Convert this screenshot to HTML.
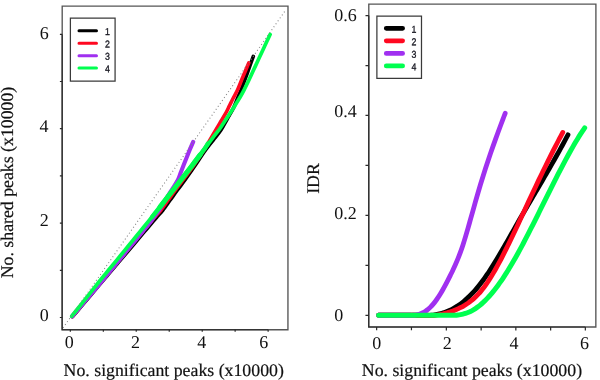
<!DOCTYPE html>
<html>
<head>
<meta charset="utf-8">
<style>
html,body{margin:0;padding:0;background:#fff;}
body{width:600px;height:380px;overflow:hidden;}
svg{display:block;will-change:transform;}
text{font-family:"Liberation Serif",serif;fill:#111;text-rendering:geometricPrecision;}
.leg{font-family:"Liberation Sans",sans-serif;font-size:10px;fill:#15151f;stroke:#15151f;stroke-width:0.3;}
.tk{font-size:18px;}
.lb{font-size:17.8px;stroke:#111;stroke-width:0.2;}
.ax{stroke:#2a2a2a;stroke-width:1.2;fill:none;}
.fr{stroke:#555;stroke-width:1.35;fill:none;}
.c{fill:none;stroke-linecap:round;stroke-linejoin:round;}
</style>
</head>
<body>
<svg width="600" height="380" viewBox="0 0 600 380">
<rect width="600" height="380" fill="#fff"/>

<!-- ================= LEFT PANEL ================= -->
<g id="left" transform="rotate(0.01)">
  <path class="c" stroke="#000000" stroke-width="3.6" d="M72.60,316.60 C74.09,314.84 78.56,309.56 81.53,306.04 C84.51,302.53 87.49,299.01 90.47,295.49 C93.44,291.97 96.42,288.45 99.40,284.93 C102.38,281.41 105.36,277.90 108.33,274.38 C111.31,270.86 114.29,267.34 117.27,263.82 C120.24,260.30 123.22,256.79 126.20,253.27 C129.18,249.75 132.16,246.23 135.13,242.71 C138.11,239.19 141.09,235.67 144.07,232.16 C147.04,228.64 150.68,224.33 153.00,221.60 C155.32,218.87 156.33,217.73 158.00,215.80 C159.67,213.87 160.96,212.63 163.00,210.00 C165.04,207.37 167.83,203.33 170.25,200.00 C172.67,196.67 175.04,193.33 177.50,190.00 C179.96,186.67 182.58,183.33 185.00,180.00 C187.42,176.67 189.70,173.33 192.00,170.00 C194.30,166.67 196.53,163.33 198.80,160.00 C201.07,156.67 203.18,153.33 205.60,150.00 C208.02,146.67 210.73,143.33 213.30,140.00 C215.87,136.67 218.68,133.50 221.00,130.00 C223.32,126.50 225.17,122.67 227.25,119.00 C229.33,115.33 231.83,111.33 233.50,108.00 C235.17,104.67 236.00,102.00 237.25,99.00 C238.50,96.00 239.88,92.83 241.00,90.00 C242.12,87.17 243.00,84.67 244.00,82.00 C245.00,79.33 245.97,76.81 247.00,74.00 C248.03,71.19 249.10,68.10 250.15,65.15 C251.20,62.20 252.78,57.77 253.30,56.30"/>
  <path class="c" stroke="#ff0820" stroke-width="3.6" d="M72.40,316.50 C73.86,314.74 78.22,309.47 81.13,305.96 C84.04,302.44 86.96,298.93 89.87,295.41 C92.78,291.90 95.69,288.38 98.60,284.87 C101.51,281.35 104.42,277.84 107.33,274.32 C110.24,270.81 113.16,267.29 116.07,263.78 C118.98,260.26 121.89,256.75 124.80,253.23 C127.71,249.72 130.62,246.20 133.53,242.69 C136.44,239.17 139.36,235.66 142.27,232.14 C145.18,228.63 148.71,224.32 151.00,221.60 C153.29,218.88 154.33,217.73 156.00,215.80 C157.67,213.87 158.96,212.63 161.00,210.00 C163.04,207.37 165.83,203.33 168.25,200.00 C170.67,196.67 173.04,193.33 175.50,190.00 C177.96,186.67 180.50,183.33 183.00,180.00 C185.50,176.67 188.12,173.33 190.50,170.00 C192.88,166.67 195.00,163.33 197.25,160.00 C199.50,156.67 202.00,153.17 204.00,150.00 C206.00,146.83 207.50,144.00 209.25,141.00 C211.00,138.00 212.71,135.03 214.50,132.00 C216.29,128.97 218.17,125.90 220.00,122.85 C221.83,119.80 223.93,116.53 225.50,113.70 C227.07,110.87 228.10,108.47 229.40,105.85 C230.70,103.23 231.95,100.64 233.30,98.00 C234.65,95.36 236.12,93.00 237.50,90.00 C238.88,87.00 240.32,83.10 241.60,80.00 C242.88,76.90 244.00,74.27 245.20,71.40 C246.40,68.53 248.20,64.23 248.80,62.80"/>
  <path class="c" stroke="#a030f0" stroke-width="4.1" d="M72.20,316.40 C73.48,314.88 77.33,310.33 79.90,307.30 C82.47,304.27 85.03,301.23 87.60,298.20 C90.17,295.17 92.73,292.13 95.30,289.10 C97.87,286.07 100.39,283.14 103.00,280.00 C105.61,276.86 108.31,273.51 110.97,270.27 C113.62,267.02 116.28,263.78 118.93,260.53 C121.59,257.29 124.24,254.04 126.90,250.80 C129.56,247.56 132.21,244.31 134.87,241.07 C137.52,237.82 140.18,234.58 142.83,231.33 C145.49,228.09 148.77,224.19 150.80,221.60 C152.83,219.01 153.60,217.73 155.00,215.80 C156.40,213.87 157.48,212.63 159.20,210.00 C160.92,207.37 163.17,203.42 165.30,200.00 C167.43,196.58 169.90,192.83 172.00,189.50 C174.10,186.17 176.43,182.83 177.90,180.00 C179.37,177.17 179.83,175.00 180.80,172.50 C181.77,170.00 182.72,167.50 183.70,165.00 C184.68,162.50 185.70,160.00 186.70,157.50 C187.70,155.00 188.62,152.62 189.70,150.00 C190.78,147.38 192.62,143.17 193.20,141.80"/>
  <path class="c" stroke="#00ff50" stroke-width="3.7" d="M71.80,316.20 C73.00,314.69 76.58,310.17 78.97,307.15 C81.37,304.13 83.76,301.12 86.15,298.10 C88.54,295.08 90.93,292.07 93.33,289.05 C95.72,286.03 97.98,283.13 100.50,280.00 C103.02,276.87 105.80,273.51 108.45,270.27 C111.10,267.02 113.75,263.78 116.40,260.53 C119.05,257.29 121.70,254.04 124.35,250.80 C127.00,247.56 129.65,244.31 132.30,241.07 C134.95,237.82 137.60,234.58 140.25,231.33 C142.90,228.09 146.07,224.23 148.20,221.60 C150.33,218.97 151.43,217.57 153.05,215.55 C154.67,213.53 155.79,212.18 157.90,209.50 C160.01,206.82 163.10,202.83 165.70,199.50 C168.30,196.17 171.23,192.42 173.50,189.50 C175.77,186.58 177.39,184.50 179.33,182.00 C181.28,179.50 183.22,177.00 185.17,174.50 C187.11,172.00 188.88,169.79 191.00,167.00 C193.12,164.21 195.60,160.83 197.90,157.75 C200.20,154.67 202.35,151.79 204.80,148.50 C207.25,145.21 210.07,141.33 212.60,138.00 C215.13,134.67 217.75,131.62 220.00,128.50 C222.25,125.38 224.07,122.33 226.10,119.25 C228.13,116.17 230.52,112.62 232.20,110.00 C233.88,107.38 234.87,105.67 236.20,103.50 C237.53,101.33 238.90,99.25 240.20,97.00 C241.50,94.75 242.70,92.50 244.00,90.00 C245.30,87.50 246.43,85.29 248.00,82.00 C249.57,78.71 251.63,74.17 253.45,70.25 C255.27,66.33 257.06,62.47 258.90,58.50 C260.74,54.53 262.63,50.47 264.50,46.45 C266.37,42.43 269.17,36.41 270.10,34.40"/>
  <path class="c" stroke="#00ff50" stroke-width="4.4" d="M152.00,217.00 C152.98,215.75 155.62,212.42 157.90,209.50 C160.18,206.58 163.10,202.83 165.70,199.50 C168.30,196.17 171.23,192.42 173.50,189.50 C175.77,186.58 177.39,184.50 179.33,182.00 C181.28,179.50 183.22,177.00 185.17,174.50 C187.11,172.00 188.88,169.79 191.00,167.00 C193.12,164.21 195.60,160.83 197.90,157.75 C200.20,154.67 203.12,150.88 204.80,148.50 C206.48,146.12 207.47,144.33 208.00,143.50"/>
  <path class="c" stroke="#00ff50" stroke-width="5" d="M160.00,207.00 C161.12,205.54 164.50,201.17 166.75,198.25 C169.00,195.33 171.40,192.21 173.50,189.50 C175.60,186.79 177.39,184.50 179.33,182.00 C181.28,179.50 183.22,177.00 185.17,174.50 C187.11,172.00 189.28,169.25 191.00,167.00 C192.72,164.75 194.00,163.00 195.50,161.00 C197.00,159.00 199.25,156.00 200.00,155.00"/>
  <line x1="63.1" y1="327.9" x2="285.6" y2="10.1" stroke="#858585" stroke-width="1.1" stroke-dasharray="1 2.6" fill="none"/>
  <rect class="fr" x="62.2" y="6.1" width="225.8" height="323.6"/>
  <path class="ax" d="M62.2,34.4V329.7H268.2"/>
  <path class="ax" d="M59.9,317.5H62.2M59.9,270.3H62.2M59.9,223.1H62.2M59.9,175.9H62.2M59.9,128.7H62.2M59.9,81.5H62.2M59.9,34.4H62.2"/>
  <path class="ax" d="M70.4,329.7V331.8M103.4,329.7V331.8M136.3,329.7V331.8M169.3,329.7V331.8M202.3,329.7V331.8M235.2,329.7V331.8M268.2,329.7V331.8"/>
  <text class="tk" x="44.3" y="39" text-anchor="middle">6</text>
  <text class="tk" x="44.1" y="132.3" text-anchor="middle">4</text>
  <text class="tk" x="44.2" y="226" text-anchor="middle">2</text>
  <text class="tk" x="44.3" y="320.9" text-anchor="middle">0</text>
  <text class="tk" x="69.3" y="347.9" text-anchor="middle">0</text>
  <text class="tk" x="135.5" y="347.8" text-anchor="middle">2</text>
  <text class="tk" x="201.9" y="347.8" text-anchor="middle">4</text>
  <text class="tk" x="263.9" y="347.8" text-anchor="middle">6</text>
  <text class="lb" x="173.8" y="376.2" text-anchor="middle">No. significant peaks (x10000)</text>
  <text class="lb" transform="translate(12.7,182.5) rotate(-90)" text-anchor="middle">No. shared peaks (x10000)</text>
  <rect x="70.4" y="18.2" width="44.7" height="62.9" fill="#fff" stroke="#3a3a3a" stroke-width="1.25"/>
  <g class="c" stroke-width="3">
    <line x1="79" y1="30.8" x2="96.5" y2="30.8" stroke="#000000"/>
    <line x1="79" y1="43.3" x2="96.5" y2="43.3" stroke="#ff0820"/>
    <line x1="79" y1="55.8" x2="96.5" y2="55.8" stroke="#a030f0"/>
    <line x1="79" y1="68.1" x2="96.5" y2="68.1" stroke="#00ff50"/>
  </g>
  <text class="leg" transform="translate(105.1,35.0) rotate(0.03) scale(0.88,1)">1</text>
  <text class="leg" transform="translate(105.1,47.4) rotate(0.03) scale(0.88,1)">2</text>
  <text class="leg" transform="translate(105.1,59.8) rotate(0.03) scale(0.88,1)">3</text>
  <text class="leg" transform="translate(105.1,72.2) rotate(0.03) scale(0.88,1)">4</text>
</g>

<!-- ================= RIGHT PANEL ================= -->
<g id="right" transform="rotate(0.01)">
  <path class="c" stroke="#000000" stroke-width="4.8" d="M378.70,315.20 L424.50,315.20 C424.92,315.20 426.17,315.20 427.00,315.20 C427.83,315.20 428.67,315.23 429.50,315.20 C430.33,315.16 431.17,315.07 432.00,314.99 C432.83,314.90 433.67,314.80 434.50,314.69 C435.33,314.57 436.17,314.44 437.00,314.28 C437.83,314.13 438.67,313.96 439.50,313.77 C440.33,313.57 441.17,313.36 442.00,313.13 C442.83,312.89 443.67,312.64 444.50,312.36 C445.33,312.08 446.17,311.78 447.00,311.45 C447.83,311.13 448.67,310.78 449.50,310.40 C450.33,310.02 451.17,309.62 452.00,309.19 C452.83,308.76 453.67,308.30 454.50,307.82 C455.33,307.34 456.17,306.83 457.00,306.30 C457.83,305.76 458.67,305.20 459.50,304.61 C460.33,304.02 461.17,303.40 462.00,302.76 C462.83,302.11 463.67,301.44 464.50,300.74 C465.33,300.04 466.17,299.31 467.00,298.55 C467.83,297.79 468.67,297.00 469.50,296.18 C470.33,295.37 471.17,294.52 472.00,293.64 C472.83,292.77 473.67,291.86 474.50,290.92 C475.33,289.99 476.17,289.02 477.00,288.02 C477.83,287.03 478.67,286.00 479.50,284.94 C480.33,283.88 481.17,282.79 482.00,281.67 C482.83,280.55 483.67,279.40 484.50,278.22 C485.33,277.05 486.17,275.85 487.00,274.62 C487.83,273.39 488.67,272.14 489.50,270.87 C490.33,269.60 491.17,268.30 492.00,266.99 C492.83,265.67 493.67,264.34 494.50,262.99 C495.33,261.64 496.17,260.27 497.00,258.88 C497.83,257.50 498.67,256.10 499.50,254.69 C500.33,253.28 501.17,251.86 502.00,250.43 C502.83,248.99 503.67,247.55 504.50,246.10 C505.33,244.65 506.17,243.19 507.00,241.73 C507.83,240.26 508.67,238.79 509.50,237.32 C510.33,235.85 511.17,234.37 512.00,232.90 C512.83,231.42 513.67,229.94 514.50,228.47 C515.33,227.00 516.17,225.52 517.00,224.06 C517.83,222.59 518.67,221.12 519.50,219.67 C520.33,218.21 521.17,216.76 522.00,215.31 C522.83,213.86 523.67,212.42 524.50,210.99 C525.33,209.55 526.17,208.12 527.00,206.69 C527.83,205.26 528.67,203.83 529.50,202.41 C530.33,200.98 531.17,199.56 532.00,198.14 C532.83,196.72 533.67,195.30 534.50,193.88 C535.33,192.46 536.17,191.04 537.00,189.62 C537.83,188.21 538.67,186.79 539.50,185.36 C540.33,183.94 541.17,182.52 542.00,181.09 C542.83,179.67 543.67,178.24 544.50,176.81 C545.33,175.38 546.17,173.94 547.00,172.50 C547.83,171.06 548.67,169.62 549.50,168.17 C550.33,166.72 551.17,165.27 552.00,163.80 C552.83,162.34 553.67,160.88 554.50,159.40 C555.33,157.92 556.17,156.44 557.00,154.95 C557.83,153.46 558.67,151.96 559.50,150.45 C560.33,148.94 561.17,147.42 562.00,145.90 C562.83,144.37 563.67,142.83 564.50,141.28 C565.33,139.73 566.42,137.69 567.00,136.59 C567.58,135.50 567.83,135.02 568.00,134.70"/>
  <path class="c" stroke="#ff0820" stroke-width="4.8" d="M378.70,315.20 L428.50,315.20 C428.92,315.20 430.17,315.20 431.00,315.20 C431.83,315.20 432.67,315.23 433.50,315.20 C434.33,315.17 435.17,315.10 436.00,315.01 C436.83,314.92 437.67,314.80 438.50,314.67 C439.33,314.54 440.17,314.38 441.00,314.21 C441.83,314.04 442.67,313.86 443.50,313.65 C444.33,313.45 445.17,313.23 446.00,313.00 C446.83,312.77 447.67,312.52 448.50,312.26 C449.33,312.00 450.17,311.73 451.00,311.45 C451.83,311.17 452.67,310.88 453.50,310.57 C454.33,310.26 455.17,309.93 456.00,309.59 C456.83,309.25 457.67,308.89 458.50,308.51 C459.33,308.13 460.17,307.73 461.00,307.30 C461.83,306.88 462.67,306.43 463.50,305.96 C464.33,305.48 465.17,304.98 466.00,304.45 C466.83,303.92 467.67,303.36 468.50,302.76 C469.33,302.17 470.17,301.55 471.00,300.88 C471.83,300.22 472.67,299.53 473.50,298.79 C474.33,298.06 475.17,297.28 476.00,296.47 C476.83,295.65 477.67,294.80 478.50,293.90 C479.33,293.00 480.17,292.06 481.00,291.06 C481.83,290.07 482.67,289.03 483.50,287.95 C484.33,286.86 485.17,285.72 486.00,284.54 C486.83,283.36 487.67,282.13 488.50,280.86 C489.33,279.60 490.17,278.28 491.00,276.94 C491.83,275.59 492.67,274.20 493.50,272.78 C494.33,271.36 495.17,269.91 496.00,268.42 C496.83,266.94 497.67,265.42 498.50,263.88 C499.33,262.34 500.17,260.76 501.00,259.17 C501.83,257.58 502.67,255.96 503.50,254.32 C504.33,252.69 505.17,251.03 506.00,249.36 C506.83,247.69 507.67,245.99 508.50,244.29 C509.33,242.59 510.17,240.87 511.00,239.14 C511.83,237.41 512.67,235.67 513.50,233.91 C514.33,232.16 515.17,230.40 516.00,228.63 C516.83,226.86 517.67,225.08 518.50,223.30 C519.33,221.52 520.17,219.73 521.00,217.94 C521.83,216.14 522.67,214.35 523.50,212.55 C524.33,210.76 525.17,208.96 526.00,207.17 C526.83,205.37 527.67,203.57 528.50,201.78 C529.33,199.99 530.17,198.21 531.00,196.43 C531.83,194.64 532.67,192.87 533.50,191.10 C534.33,189.33 535.17,187.57 536.00,185.81 C536.83,184.05 537.67,182.30 538.50,180.56 C539.33,178.82 540.17,177.08 541.00,175.35 C541.83,173.63 542.67,171.91 543.50,170.20 C544.33,168.49 545.17,166.78 546.00,165.09 C546.83,163.39 547.67,161.71 548.50,160.03 C549.33,158.36 550.17,156.69 551.00,155.04 C551.83,153.38 552.67,151.73 553.50,150.10 C554.33,148.46 555.17,146.83 556.00,145.22 C556.83,143.61 557.67,142.00 558.50,140.41 C559.33,138.82 560.28,137.02 561.00,135.67 C561.72,134.32 562.50,132.86 562.80,132.30"/>
  <path class="c" stroke="#a030f0" stroke-width="4.8" d="M378.70,315.20 L408.00,315.20 C408.42,315.20 409.67,315.20 410.50,315.20 C411.33,315.20 412.17,315.24 413.00,315.20 C413.83,315.16 414.67,315.10 415.50,314.98 C416.33,314.85 417.17,314.65 418.00,314.43 C418.83,314.21 419.67,313.94 420.50,313.63 C421.33,313.31 422.17,312.95 423.00,312.53 C423.83,312.11 424.67,311.63 425.50,311.09 C426.33,310.55 427.17,309.95 428.00,309.28 C428.83,308.60 429.67,307.86 430.50,307.04 C431.33,306.22 432.17,305.32 433.00,304.34 C433.83,303.37 434.67,302.31 435.50,301.18 C436.33,300.06 437.17,298.86 438.00,297.60 C438.83,296.35 439.67,295.02 440.50,293.65 C441.33,292.28 442.17,290.84 443.00,289.37 C443.83,287.89 444.67,286.36 445.50,284.80 C446.33,283.24 447.17,281.64 448.00,280.00 C448.83,278.37 449.67,276.71 450.50,275.02 C451.33,273.33 452.17,271.63 453.00,269.87 C453.83,268.10 454.67,266.32 455.50,264.44 C456.33,262.56 457.17,260.63 458.00,258.57 C458.83,256.52 459.67,254.39 460.50,252.10 C461.33,249.81 462.17,247.40 463.00,244.85 C463.83,242.30 464.67,239.59 465.50,236.82 C466.33,234.05 467.17,231.15 468.00,228.24 C468.83,225.33 469.67,222.34 470.50,219.38 C471.33,216.41 472.17,213.41 473.00,210.45 C473.83,207.48 474.67,204.50 475.50,201.58 C476.33,198.65 477.17,195.73 478.00,192.88 C478.83,190.03 479.67,187.22 480.50,184.46 C481.33,181.71 482.17,179.01 483.00,176.34 C483.83,173.68 484.67,171.07 485.50,168.49 C486.33,165.92 487.17,163.39 488.00,160.89 C488.83,158.39 489.67,155.93 490.50,153.50 C491.33,151.08 492.17,148.68 493.00,146.32 C493.83,143.95 494.67,141.61 495.50,139.30 C496.33,136.98 497.17,134.69 498.00,132.42 C498.83,130.15 499.67,127.90 500.50,125.67 C501.33,123.43 502.22,121.08 503.00,119.00 C503.78,116.93 504.83,114.17 505.20,113.20"/>
  <path class="c" stroke="#00ff50" stroke-width="5" d="M378.70,315.20 L448.00,315.20 C448.42,315.20 449.67,315.20 450.50,315.20 C451.33,315.20 452.17,315.20 453.00,315.20 C453.83,315.20 454.67,315.23 455.50,315.18 C456.33,315.14 457.17,315.04 458.00,314.93 C458.83,314.83 459.67,314.70 460.50,314.55 C461.33,314.40 462.17,314.23 463.00,314.03 C463.83,313.82 464.67,313.60 465.50,313.33 C466.33,313.07 467.17,312.78 468.00,312.45 C468.83,312.12 469.67,311.76 470.50,311.36 C471.33,310.95 472.17,310.51 473.00,310.04 C473.83,309.56 474.67,309.04 475.50,308.49 C476.33,307.94 477.17,307.35 478.00,306.72 C478.83,306.10 479.67,305.44 480.50,304.74 C481.33,304.05 482.17,303.32 483.00,302.56 C483.83,301.79 484.67,300.99 485.50,300.16 C486.33,299.33 487.17,298.47 488.00,297.57 C488.83,296.68 489.67,295.75 490.50,294.79 C491.33,293.83 492.17,292.84 493.00,291.82 C493.83,290.80 494.67,289.75 495.50,288.67 C496.33,287.59 497.17,286.48 498.00,285.34 C498.83,284.20 499.67,283.04 500.50,281.84 C501.33,280.65 502.17,279.43 503.00,278.18 C503.83,276.93 504.67,275.66 505.50,274.36 C506.33,273.06 507.17,271.73 508.00,270.38 C508.83,269.03 509.67,267.66 510.50,266.26 C511.33,264.87 512.17,263.45 513.00,262.01 C513.83,260.57 514.67,259.11 515.50,257.64 C516.33,256.16 517.17,254.66 518.00,253.15 C518.83,251.64 519.67,250.11 520.50,248.56 C521.33,247.02 522.17,245.45 523.00,243.88 C523.83,242.31 524.67,240.72 525.50,239.12 C526.33,237.52 527.17,235.90 528.00,234.28 C528.83,232.66 529.67,231.03 530.50,229.39 C531.33,227.75 532.17,226.09 533.00,224.44 C533.83,222.78 534.67,221.12 535.50,219.45 C536.33,217.78 537.17,216.10 538.00,214.43 C538.83,212.75 539.67,211.07 540.50,209.39 C541.33,207.70 542.17,206.02 543.00,204.33 C543.83,202.65 544.67,200.96 545.50,199.28 C546.33,197.59 547.17,195.91 548.00,194.23 C548.83,192.55 549.67,190.88 550.50,189.21 C551.33,187.54 552.17,185.87 553.00,184.21 C553.83,182.55 554.67,180.90 555.50,179.25 C556.33,177.61 557.17,175.97 558.00,174.35 C558.83,172.72 559.67,171.10 560.50,169.50 C561.33,167.90 562.17,166.30 563.00,164.72 C563.83,163.14 564.67,161.58 565.50,160.03 C566.33,158.47 567.17,156.94 568.00,155.42 C568.83,153.90 569.67,152.40 570.50,150.91 C571.33,149.43 572.17,147.96 573.00,146.52 C573.83,145.07 574.67,143.64 575.50,142.24 C576.33,140.84 577.17,139.45 578.00,138.10 C578.83,136.74 579.67,135.40 580.50,134.09 C581.33,132.78 582.30,131.30 583.00,130.24 C583.70,129.17 584.42,128.12 584.70,127.70"/>
  <rect class="fr" x="368.8" y="4" width="227.1" height="322.9"/>
  <path class="ax" d="M368.8,15.5V326.9H585.4"/>
  <path class="ax" d="M365.5,15.5H368.8M365.5,65.5H368.8M365.5,115.3H368.8M365.5,165.3H368.8M365.5,215.3H368.8M365.5,265.4H368.8M365.5,315.4H368.8"/>
  <path class="ax" d="M376.7,326.9V330.3M411.5,326.9V330.3M446.4,326.9V330.3M481.2,326.9V330.3M515.9,326.9V330.3M550.7,326.9V330.3M585.4,326.9V330.3"/>
  <text class="tk" x="334.3" y="21">0.6</text>
  <text class="tk" x="334.3" y="117.3">0.4</text>
  <text class="tk" x="334.3" y="218.8">0.2</text>
  <text class="tk" x="334.3" y="320.9">0</text>
  <text class="tk" x="376.7" y="349.3" text-anchor="middle">0</text>
  <text class="tk" x="447.3" y="349.3" text-anchor="middle">2</text>
  <text class="tk" x="514" y="349.3" text-anchor="middle">4</text>
  <text class="tk" x="584.6" y="349.3" text-anchor="middle">6</text>
  <text class="lb" x="472" y="375.7" text-anchor="middle">No. significant peaks (x10000)</text>
  <text class="lb" transform="translate(319.3,178.5) rotate(-90)" text-anchor="middle">IDR</text>
  <rect x="376.9" y="16" width="44.6" height="62.2" fill="#fff" stroke="#3a3a3a" stroke-width="1.25"/>
  <g class="c" stroke-width="4.8">
    <line x1="386.3" y1="28.3" x2="402.6" y2="28.3" stroke="#000000"/>
    <line x1="386.3" y1="40.8" x2="402.6" y2="40.8" stroke="#ff0820"/>
    <line x1="386.3" y1="53.4" x2="402.6" y2="53.4" stroke="#a030f0"/>
    <line x1="386.3" y1="65.9" x2="402.6" y2="65.9" stroke="#00ff50"/>
  </g>
  <text class="leg" transform="translate(411.6,32.8) rotate(0.03) scale(0.88,1)">1</text>
  <text class="leg" transform="translate(411.6,45.1) rotate(0.03) scale(0.88,1)">2</text>
  <text class="leg" transform="translate(411.6,57.6) rotate(0.03) scale(0.88,1)">3</text>
  <text class="leg" transform="translate(411.6,70.1) rotate(0.03) scale(0.88,1)">4</text>
</g>
</svg>
</body>
</html>
